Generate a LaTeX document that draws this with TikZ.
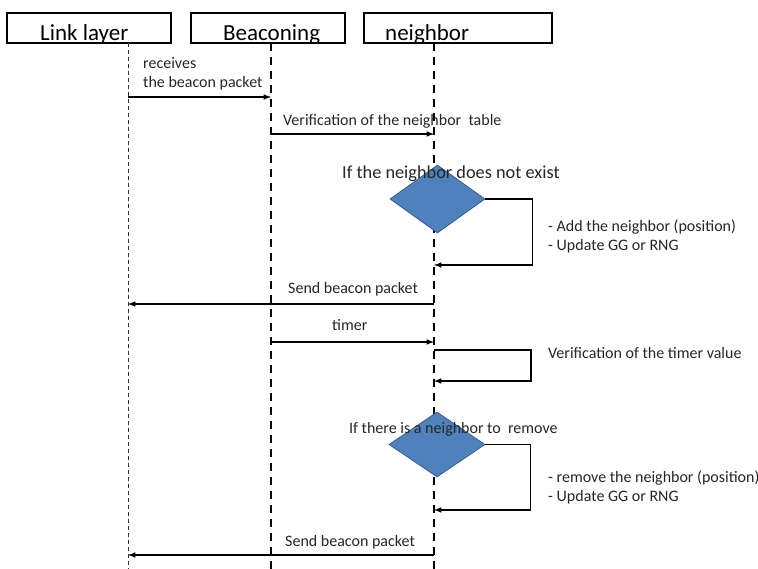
\documentclass[tikz,border=0pt]{standalone}
\usepackage{fontspec}
\setmainfont{Carlito}
\usetikzlibrary{shapes.geometric}
\definecolor{condfill}{RGB}{79,129,189}
\definecolor{conddraw}{RGB}{56,93,138}

\begin{document}
\begin{tikzpicture}[x=1pt,y=-1pt,
	head/.style={draw,line width=1.6pt,minimum height=30pt,inner sep=0pt},
	lbl/.style={inner sep=0pt,anchor=base west,font=\fontsize{16}{19}\selectfont,text=black!85},
	msg/.style={-latex,line width=1.5pt},
	life/.style={line width=1.8pt,dash pattern=on 8pt off 6pt},
	cond/.style={diamond,draw=conddraw,fill=condfill,line width=0.8pt,inner sep=0pt}]
	\useasboundingbox (0,0) rectangle (758,569);
	\foreach \n/\x/\w/\lab/\tx in {link/89/164/Link layer/40,beac/268/154/Beaconing/223,neig/458/188/neighbor/385}
	{
		\node[head,minimum width=\w pt] (\n) at (\x,28) {};
		\node[inner sep=0pt,anchor=base west,font=\fontsize{23}{26}\selectfont] (\n-t) at (\tx,41) {\lab};
	}
	\coordinate (ll) at (128,43);
	\coordinate (bl) at (271,43);
	\coordinate (nl) at (434,43);
	\draw[line width=0.9pt,dash pattern=on 4pt off 3pt,black!80] (ll) -- (ll |- 0,569);
	\draw[life] (bl) -- (bl |- 0,569);
	\draw[life] (nl) -- (nl |- 0,569);
	% beacon received
	\draw[msg] (ll |- 0,97) -- (bl |- 0,97);
	\node[lbl,align=left,anchor=west] (rcv) at (143,74) {receives\\the beacon packet};
	\draw[msg] (bl |- 0,134) -- (nl |- 0,134);
	\node[lbl] (vnt) at (283,126) {Verification of the neighbor~ table};
	\node[cond,minimum width=95pt,minimum height=68pt] (d1) at (437.5,199) {};
	\node[lbl,font=\fontsize{18.3}{22}\selectfont] (c1) at (342,179) {If the neighbor does not exist};
	\draw[msg] (d1.east) -- ++(47,0) |- (nl |- 0,265);
	\node[lbl,align=left,anchor=west] (a1) at (548,236) {- Add the neighbor (position)\\- Update GG or RNG};
	\draw[msg] (nl |- 0,304) -- (ll |- 0,304);
	\node[lbl] (s1) at (288,294) {Send beacon packet};
	% timer
	\draw[msg] (bl |- 0,342) -- (nl |- 0,342);
	\node[lbl] (tm) at (332,331) {timer};
	\draw[msg] (nl |- 0,350) -- ++(97,0) |- (nl |- 0,381);
	\node[lbl] (vt) at (548,359) {Verification of the timer value};
	\node[cond,minimum width=96pt,minimum height=65pt] (d2) at (437,444.5) {};
	\node[lbl] (c2) at (349,433) {If there is a neighbor to~ remove};
	\draw[msg] (d2.east) -- ++(45,0) |- (nl |- 0,510);
	\node[lbl,align=left,anchor=west] (a2) at (548,487.5) {- remove the neighbor (position)\\- Update GG or RNG};
	\draw[msg] (nl |- 0,555) -- (ll |- 0,555);
	\node[lbl] (s2) at (285,546) {Send beacon packet};
\end{tikzpicture}
\end{document}
